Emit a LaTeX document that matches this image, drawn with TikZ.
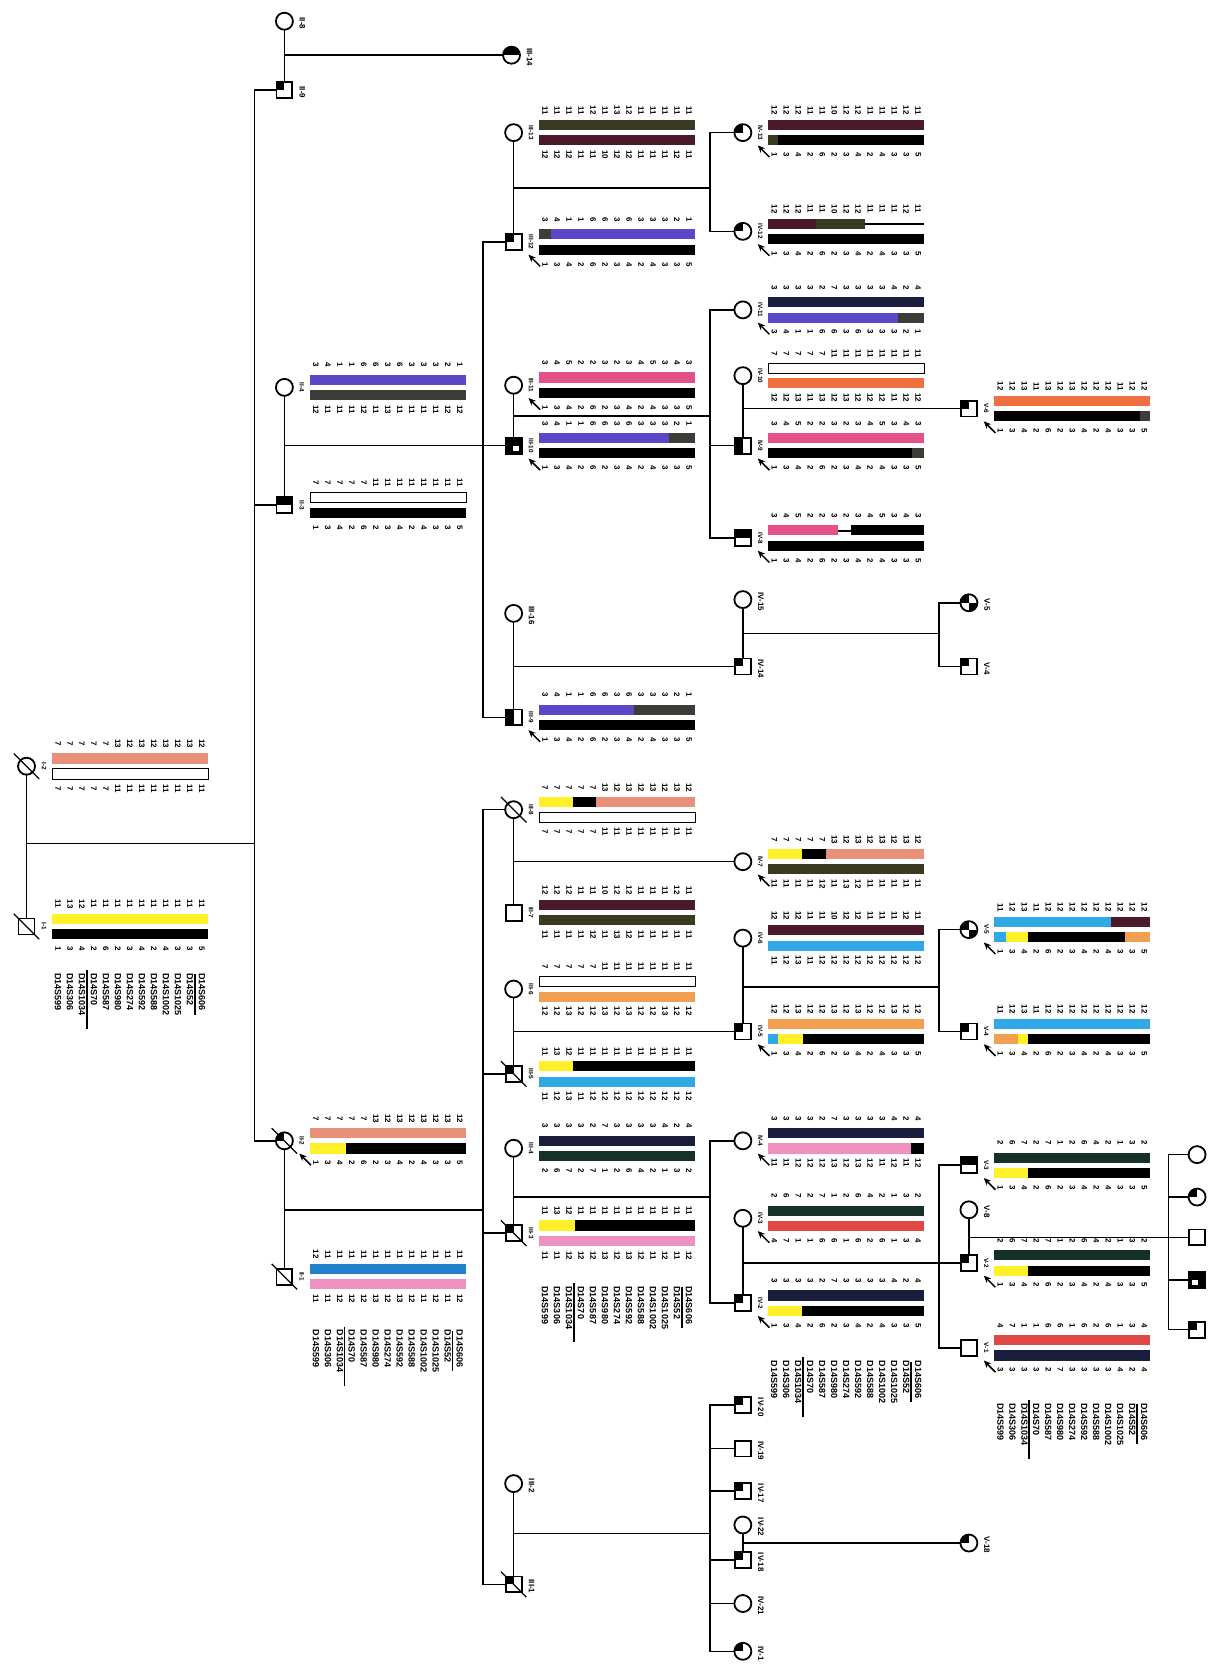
\documentclass[tikz,border=0pt]{standalone}
\usepackage{fontspec}
\setmainfont{Liberation Sans}
\usetikzlibrary{arrows.meta}
\definecolor{sal}{HTML}{E8907A}
\definecolor{yel}{HTML}{FFF02A}
\definecolor{pur}{HTML}{5A48C8}
\definecolor{dgr}{HTML}{3C3C38}
\definecolor{oli}{HTML}{3A3A20}
\definecolor{mar}{HTML}{4A1A2A}
\definecolor{pnk}{HTML}{E4508A}
\definecolor{lpk}{HTML}{EE90C0}
\definecolor{org}{HTML}{F07040}
\definecolor{lor}{HTML}{F0A050}
\definecolor{sky}{HTML}{30A8E8}
\definecolor{blu}{HTML}{2080C8}
\definecolor{nav}{HTML}{1A1E3C}
\definecolor{tea}{HTML}{173028}
\definecolor{rd}{HTML}{E04848}
\def\Lblk{1,3,4,2,6,2,3,4,2,4,3,3,5}
\def\Lsal{7,7,7,7,7,13,12,13,12,13,12,13,12}
\def\Lwht{7,7,7,7,7,11,11,11,11,11,11,11,11}
\def\Lyel{11,13,12,11,11,11,11,11,11,11,11,11,11}
\def\Lpur{3,4,1,1,6,6,3,6,3,3,3,2,1}
\def\Ldgr{12,11,11,11,12,11,13,11,11,11,11,12,12}
\def\Loli{11,11,11,11,12,11,13,12,11,11,11,11,11}
\def\Lmar{12,12,12,11,11,10,12,12,11,11,11,12,11}
\def\Lpnk{3,4,5,2,2,3,2,3,4,5,3,4,3}
\def\Lnav{3,3,3,3,2,7,3,3,3,3,4,2,4}
\def\Lorg{12,12,13,11,13,12,13,12,12,12,11,12,12}
\def\Llor{12,12,13,12,12,13,12,13,12,12,13,12,12}
\def\Lsky{11,12,13,11,12,12,12,12,12,12,12,12,12}
\def\Lblu{12,11,11,11,11,11,11,11,11,11,11,11,11}
\def\Llpk{11,11,12,12,12,13,12,13,12,11,12,11,12}
\def\Ltea{2,6,7,2,7,1,2,6,4,2,1,3,2}
\def\Lrd{4,7,1,1,6,6,1,6,2,6,1,3,4}
\def\mklist{D14S599,D14S306,D14S1034,D14S70,D14S587,D14S980,D14S274,D14S592,D14S588,D14S1002,D14S1025,D14S52,D14S606}
% haplotype: #1 name, #2 x, #3 y, #4 top segs, #5 bottom segs, #6 top nums, #7 bottom nums
\newcommand\hap[7]{%
  \foreach \s/\a/\b/\d in {#4}{\path[fill=\s,draw=\d,line width=.7pt] ({#2+24+\a},{#3-12}) rectangle ({#2+24+\b},{#3-2.5});}
  \foreach \s/\a/\b/\d in {#5}{\path[fill=\s,draw=\d,line width=.7pt] ({#2+24+\a},{#3+2.5}) rectangle ({#2+24+\b},{#3+12});}
  \foreach \n [count=\i from 0] in #6 {\node[num] (#1t\i) at ({#2+24+5.65+11.3*\i},{#3-21}) {\n};}
  \foreach \n [count=\i from 0] in #7 {\node[num] (#1b\i) at ({#2+24+5.65+11.3*\i},{#3+21}) {\n};}
}
\newcommand\markers[3]{%
  \foreach \m [count=\i from 0] in \mklist {\node[mk,anchor=west] (#1m\i) at ({#2+5.65+11.3*\i},#3) {\m};}
  \draw[line width=1.6pt] ({#2+5.65+11.3*2+4.5},{#3-3}) -- ++(0,56);
  \draw[line width=1.6pt] ({#2+5.65+11.3*11+4.5},{#3+1}) -- ++(0,38);
}
\newcommand\prb[1]{\draw[prob] ([shift={(25,23)}]#1.center) -- ([shift={(14,12)}]#1.center);}
\newcommand\dec[1]{\draw[dl] ([shift={(-12,-12)}]#1.center) -- ([shift={(12,12)}]#1.center);}
\newcommand\lb[2]{\node[lab] (L#1) at ([shift={(16.5,0)}]#1.center) {#2};}
\newcommand\lbo[2]{\node[labo] (L#1) at ([shift={(17,2)}]#1.center) {#2};}
\begin{document}
\begin{tikzpicture}[x=1pt,y=-1pt,
  ln/.style={line width=1.4pt},
  sq/.style={draw,rectangle,minimum size=15pt,inner sep=0pt,line width=1.7pt,fill=white},
  ci/.style={draw,circle,minimum size=16pt,inner sep=0pt,line width=1.7pt,fill=white},
  q/.style={path picture={\fill[black] (path picture bounding box.north west) rectangle (path picture bounding box.center);}},
  ht/.style={path picture={\fill[black] (path picture bounding box.north west) rectangle (path picture bounding box.east);}},
  hl/.style={path picture={\fill[black] (path picture bounding box.north west) rectangle (path picture bounding box.south);}},
  tq/.style={path picture={\fill[black] (path picture bounding box.north west) rectangle (path picture bounding box.south east);\fill[white] ([shift={(-0.5,0.5)}]path picture bounding box.center) rectangle ([shift={(-2.5,-2.5)}]path picture bounding box.south east);}},
  tql/.style={path picture={\fill[black] (path picture bounding box.north west) rectangle (path picture bounding box.south east);\fill[white] ([shift={(0.5,0.5)}]path picture bounding box.center) rectangle ([shift={(2.5,-2.5)}]path picture bounding box.south west);}},
  pie/.style={path picture={\fill[black] (path picture bounding box.north west) rectangle (path picture bounding box.center);\fill[black] (path picture bounding box.center) rectangle (path picture bounding box.south east);}},
  num/.style={rotate=-90,inner sep=0pt,font=\fontsize{7.5}{7.5}\selectfont\bfseries},
  mk/.style={rotate=-90,inner sep=0pt,font=\fontsize{8.5}{8.5}\selectfont\bfseries},
  lab/.style={rotate=-90,inner sep=0pt,font=\fontsize{6}{6}\selectfont\bfseries},
  labo/.style={rotate=-90,inner sep=0pt,font=\fontsize{7.5}{7.5}\selectfont\bfseries},
  prob/.style={-{Stealth[length=7pt,width=6pt]},line width=1.4pt},
  dl/.style={line width=1.2pt}]
\useasboundingbox (0,0) rectangle (1142,1568);
\fill[white] (0,0) rectangle (1142,1568);

% ---------- junction coordinates ----------
\coordinate (mI) at (25,795);
\coordinate (tTop) at (240,85);
\coordinate (tBot) at (240,1075);
\coordinate (s3a) at (455,228);
\coordinate (s3b) at (455,676);
\coordinate (m3a) at (484,177);
\coordinate (s4a) at (669,125);
\coordinate (s4b) at (669,218);
\coordinate (m3b) at (484,392);
\coordinate (s4c) at (669,292);
\coordinate (s4d) at (669,507);
\coordinate (m4a) at (700,597);
\coordinate (s5a) at (885,568);
\coordinate (s5b) at (885,628);
\coordinate (m2b) at (268,1140);
\coordinate (s3c) at (455,763);
\coordinate (s3d) at (455,1493);
\coordinate (m4b) at (700,930);
\coordinate (s5c) at (885,876);
\coordinate (s5d) at (885,972);
\coordinate (m3c) at (484,1128);
\coordinate (s4e) at (669,1075);
\coordinate (s4f) at (669,1228);
\coordinate (s5e) at (885,1098);
\coordinate (s5f) at (885,1270);
\coordinate (s6a) at (1101,1088);
\coordinate (s6b) at (1101,1253);
\coordinate (m3d) at (484,1445);
\coordinate (s4g) at (669,1324);
\coordinate (s4h) at (669,1556);

% ---------- lines (drawn first) ----------
\draw[ln] (25,722) -- (25,873);
\draw[ln] (mI) -- (mI -| tTop);
\draw[ln] (268,85) -- (tTop) -- (tBot) -- (268,1075);
\draw[ln] (240,476) -- (268,476);
\draw[ln] (268,20) -- (268,85);
\draw[ln] (268,52) -- (482,52);
\draw[ln] (268,365) -- (268,476);
\draw[ln] (268,420) -- (484,420);
\draw[ln] (484,228) -- (s3a) -- (s3b) -- (484,676);
\draw[ln] (484,125) -- (484,228);
\draw[ln] (700,125) -- (s4a) -- (s4b) -- (700,218);
\draw[ln] (m3a) -- (m3a -| s4a);
\draw[ln] (484,363) -- (484,420);
\draw[ln] (700,292) -- (s4c) -- (s4d) -- (700,507);
\draw[ln] (s4c |- 0,420) -- (700,420);
\draw[ln] (m3b) -- (m3b -| s4c);
\draw[ln] (700,354) -- (700,420);
\draw[ln] (700,385) -- (913,385);
\draw[ln] (484,578) -- (484,676);
\draw[ln] (484,628) -- (700,628);
\draw[ln] (700,565) -- (700,628);
\draw[ln] (913,568) -- (s5a) -- (s5b) -- (913,628);
\draw[ln] (m4a) -- (m4a -| s5a);
\draw[ln] (268,1075) -- (268,1203);
\draw[ln] (m2b) -- (m2b -| s3c);
\draw[ln] (484,763) -- (s3c) -- (s3d) -- (484,1493);
\draw[ln] (s3c |- 0,1012) -- (484,1012);
\draw[ln] (s3c |- 0,1162) -- (484,1162);
\draw[ln] (484,763) -- (484,860);
\draw[ln] (484,812) -- (700,812);
\draw[ln] (484,932) -- (484,1012);
\draw[ln] (484,972) -- (700,972);
\draw[ln] (700,884) -- (700,972);
\draw[ln] (913,876) -- (s5c) -- (s5d) -- (913,972);
\draw[ln] (m4b) -- (m4b -| s5c);
\draw[ln] (484,1082) -- (484,1162);
\draw[ln] (700,1075) -- (s4e) -- (s4f) -- (700,1228);
\draw[ln] (m3c) -- (m3c -| s4e);
\draw[ln] (700,1148) -- (700,1228);
\draw[ln] (700,1190) -- (913,1190);
\draw[ln] (913,1098) -- (s5e) -- (s5f) -- (913,1270);
\draw[ln] (913,1140) -- (913,1190);
\draw[ln] (913,1166) -- (1128,1166);
\draw[ln] (1128,1088) -- (s6a) -- (s6b) -- (1128,1253);
\draw[ln] (s6a |- 0,1128) -- (1128,1128);
\draw[ln] (s6a |- 0,1206) -- (1128,1206);
\draw[ln] (484,1398) -- (484,1493);
\draw[ln] (700,1324) -- (s4g) -- (s4h) -- (700,1556);
\draw[ln] (m3d) -- (m3d -| s4g);
\foreach \yy in {1365,1405,1470,1511} {\draw[ln] (s4g |- 0,\yy) -- (700,\yy);}
\draw[ln] (700,1437) -- (700,1470);
\draw[ln] (700,1454) -- (913,1454);

% ---------- symbols ----------
\node[ci] (I2) at (25,722) {};
\node[sq] (I1) at (25,873) {};
\node[ci] (II8) at (268,20) {};
\node[sq,q] (II9) at (268,85) {};
\node[ci,ht] (III14) at (482,52) {};
\node[ci] (II4) at (268,365) {};
\node[sq,ht] (II3) at (268,476) {};
\node[ci] (III13) at (484,125) {};
\node[sq,q] (III12) at (484,228) {};
\node[ci,q] (IV13) at (700,125) {};
\node[ci,q] (IV12) at (700,218) {};
\node[ci] (III11) at (484,363) {};
\node[sq,tq] (III10) at (484,420) {};
\node[ci] (IV11) at (700,292) {};
\node[ci] (IV10) at (700,354) {};
\node[sq,hl] (IV9) at (700,420) {};
\node[sq,ht] (IV8) at (700,507) {};
\node[sq,q] (V6) at (913,385) {};
\node[ci] (III16) at (484,578) {};
\node[sq,hl] (III9) at (484,676) {};
\node[ci] (IV15) at (700,565) {};
\node[sq,q] (IV14) at (700,628) {};
\node[ci,pie] (V5a) at (913,568) {};
\node[sq,q] (V4a) at (913,628) {};
\node[ci,q] (II2) at (268,1075) {};
\node[sq] (II1) at (268,1203) {};
\node[ci] (III8) at (484,763) {};
\node[sq] (III7) at (484,860) {};
\node[ci] (IV7) at (700,812) {};
\node[ci] (III6) at (484,932) {};
\node[sq,q] (III5) at (484,1012) {};
\node[ci] (IV6) at (700,884) {};
\node[sq,q] (IV5) at (700,972) {};
\node[ci,pie] (V5b) at (913,876) {};
\node[sq,q] (V4b) at (913,972) {};
\node[ci] (III4) at (484,1082) {};
\node[sq,q] (III3) at (484,1162) {};
\node[ci] (IV4) at (700,1075) {};
\node[ci] (IV3) at (700,1148) {};
\node[sq,q] (IV2) at (700,1228) {};
\node[sq,ht] (V3) at (913,1098) {};
\node[ci] (V8) at (913,1140) {};
\node[sq,q] (V2) at (913,1190) {};
\node[sq] (V1) at (913,1270) {};
\node[ci] (VI1) at (1128,1088) {};
\node[ci,q] (VI2) at (1128,1128) {};
\node[sq] (VI3) at (1128,1166) {};
\node[sq,tql] (VI4) at (1128,1206) {};
\node[sq,q] (VI5) at (1128,1253) {};
\node[ci] (III2) at (484,1398) {};
\node[sq,q] (III1) at (484,1493) {};
\node[sq,q] (IV20) at (700,1324) {};
\node[sq] (IV19) at (700,1365) {};
\node[sq,q] (IV17) at (700,1405) {};
\node[ci] (IV22) at (700,1437) {};
\node[sq,q] (IV18) at (700,1470) {};
\node[ci] (IV21) at (700,1511) {};
\node[ci,q] (IV1) at (700,1556) {};
\node[ci,q] (V18) at (913,1454) {};

% deceased
\foreach \nn in {I2,I1,II2,II1,III8,III5,III3,III1} {\dec{\nn}}

% ---------- haplotypes ----------
\hap{hI2}{25}{722}{sal/0/147/none}{white/0/147/black}{\Lsal}{\Lwht}
\hap{hI1}{25}{873}{yel/0/147/none}{black/0/147/none}{\Lyel}{\Lblk}
\hap{hII4}{268}{365}{pur/0/147/none}{dgr/0/147/none}{\Lpur}{\Ldgr}
\hap{hII3}{268}{476}{white/0/147/black}{black/0/147/none}{\Lwht}{\Lblk}
\hap{hIII13}{484}{125}{oli/0/147/none}{mar/0/147/none}{\Loli}{\Lmar}
\hap{hIII12}{484}{228}{dgr/0/11/none,pur/11/147/none}{black/0/147/none}{\Lpur}{\Lblk}
\hap{hIV13}{700}{125}{mar/0/147/none}{oli/0/9/none,black/9/147/none}{\Lmar}{\Lblk}
\hap{hIV12}{700}{218}{mar/0/45/none,oli/45/91/none}{black/0/147/none}{\Lmar}{\Lblk}
\draw[line width=1.8pt] (815,211) -- (871,211);
\hap{hIII11}{484}{363}{pnk/0/147/none}{black/0/147/none}{\Lpnk}{\Lblk}
\hap{hIII10}{484}{420}{pur/0/122/none,dgr/122/147/none}{black/0/147/none}{\Lpur}{\Lblk}
\hap{hIV11}{700}{292}{nav/0/147/none}{pur/0/122/none,dgr/122/147/none}{\Lnav}{\Lpur}
\hap{hIV10}{700}{354}{white/0/147/black}{org/0/147/none}{\Lwht}{\Lorg}
\hap{hIV9}{700}{420}{pnk/0/147/none}{black/0/135/none,dgr/135/147/none}{\Lpnk}{\Lblk}
\hap{hIV8}{700}{507}{pnk/0/66/none,black/78/147/none}{black/0/147/none}{\Lpnk}{\Lblk}
\draw[line width=1.8pt] (790,500) -- (802,500);
\hap{hV6}{913}{385}{org/0/147/none}{black/0/137/none,dgr/137/147/none}{\Lorg}{\Lblk}
\hap{hIII9}{484}{676}{pur/0/89/none,dgr/89/147/none}{black/0/147/none}{\Lpur}{\Lblk}
\hap{hII2}{268}{1075}{sal/0/147/none}{yel/0/34/none,black/34/147/none}{\Lsal}{\Lblk}
\hap{hII1}{268}{1203}{blu/0/147/none}{lpk/0/147/none}{\Lblu}{\Llpk}
\hap{hIII8}{484}{763}{yel/0/32/none,black/32/54/none,sal/54/147/none}{white/0/147/black}{\Lsal}{\Lwht}
\hap{hIII7}{484}{860}{mar/0/147/none}{oli/0/147/none}{\Lmar}{\Loli}
\hap{hIV7}{700}{812}{yel/0/32/none,black/32/54/none,sal/54/147/none}{oli/0/147/none}{\Lsal}{\Loli}
\hap{hIII6}{484}{932}{white/0/147/black}{lor/0/147/none}{\Lwht}{\Llor}
\hap{hIII5}{484}{1012}{yel/0/32/none,black/32/147/none}{sky/0/147/none}{\Lyel}{\Lsky}
\hap{hIV6}{700}{884}{mar/0/147/none}{sky/0/147/none}{\Lmar}{\Lsky}
\hap{hIV5}{700}{972}{lor/0/147/none}{sky/0/9/none,yel/9/33/none,black/33/147/none}{\Llor}{\Lblk}
\hap{hV5}{913}{876}{sky/0/110/none,mar/110/147/none}{sky/0/11/none,yel/11/32/none,black/32/123/none,lor/123/147/none}{\Lsky}{\Lblk}
\hap{hV4}{913}{972}{sky/0/147/none}{lor/0/22/none,yel/22/32/none,black/32/147/none}{\Lsky}{\Lblk}
\hap{hIII4}{484}{1082}{nav/0/147/none}{tea/0/147/none}{\Lnav}{\Ltea}
\hap{hIII3}{484}{1162}{yel/0/34/none,black/34/147/none}{lpk/0/147/none}{\Lyel}{\Llpk}
\hap{hIV4}{700}{1075}{nav/0/147/none}{lpk/0/134/none,black/134/147/none}{\Lnav}{\Llpk}
\hap{hIV3}{700}{1148}{tea/0/147/none}{rd/0/147/none}{\Ltea}{\Lrd}
\hap{hIV2}{700}{1228}{nav/0/147/none}{yel/0/32/none,black/32/147/none}{\Lnav}{\Lblk}
\hap{hV3}{913}{1098}{tea/0/147/none}{yel/0/32/none,black/32/147/none}{\Ltea}{\Lblk}
\hap{hV2}{913}{1190}{tea/0/147/none}{yel/0/32/none,black/32/147/none}{\Ltea}{\Lblk}
\hap{hV1}{913}{1270}{rd/0/147/none}{nav/0/147/none}{\Lrd}{\Lnav}

% ---------- marker lists ----------
\markers{mkI}{49}{917}
\markers{mkII}{292}{1253}
\markers{mkIII}{508}{1212}
\markers{mkIV}{724}{1282}
\markers{mkV}{937}{1322}

% ---------- proband arrows ----------
\foreach \nn in {III12,IV13,IV12,III11,III10,IV11,IV9,IV8,V6,III9,IV7,IV5,V5b,V4b,II2,IV4,IV3,IV2,V3,V2,V1} {\prb{\nn}}

% ---------- labels ----------
\lb{I2}{I-2} \lb{I1}{I-1}
\lb{II4}{II-4} \lb{II3}{II-3} \lb{II2}{II-2} \lb{II1}{II-1}
\lb{III13}{III-13} \lb{III12}{III-12} \lb{III11}{III-11} \lb{III10}{III-10} \lb{III9}{III-9}
\lb{III8}{III-8} \lb{III7}{III-7} \lb{III6}{III-6} \lb{III5}{III-5} \lb{III4}{III-4} \lb{III3}{III-3}
\lb{IV13}{IV-13} \lb{IV12}{IV-12} \lb{IV11}{IV-11} \lb{IV10}{IV-10} \lb{IV9}{IV-9} \lb{IV8}{IV-8}
\lb{IV7}{IV-7} \lb{IV6}{IV-6} \lb{IV5}{IV-5} \lb{IV4}{IV-4} \lb{IV3}{IV-3} \lb{IV2}{IV-2}
\lb{V6}{V-6} \lb{V5b}{V-5} \lb{V4b}{V-4} \lb{V3}{V-3} \lb{V2}{V-2} \lb{V1}{V-1}
\lbo{II8}{II-8} \lbo{II9}{II-9} \lbo{III14}{III-14} \lbo{III16}{III-16}
\lbo{IV15}{IV-15} \lbo{IV14}{IV-14} \lbo{V5a}{V-5} \lbo{V4a}{V-4} \lbo{V8}{V-8}
\lbo{III2}{III-2} \lbo{III1}{III-1}
\lbo{IV20}{IV-20} \lbo{IV19}{IV-19} \lbo{IV17}{IV-17} \lbo{IV22}{IV-22} \lbo{IV18}{IV-18} \lbo{IV21}{IV-21} \lbo{IV1}{IV-1}
\lbo{V18}{V-18}
\end{tikzpicture}
\end{document}
